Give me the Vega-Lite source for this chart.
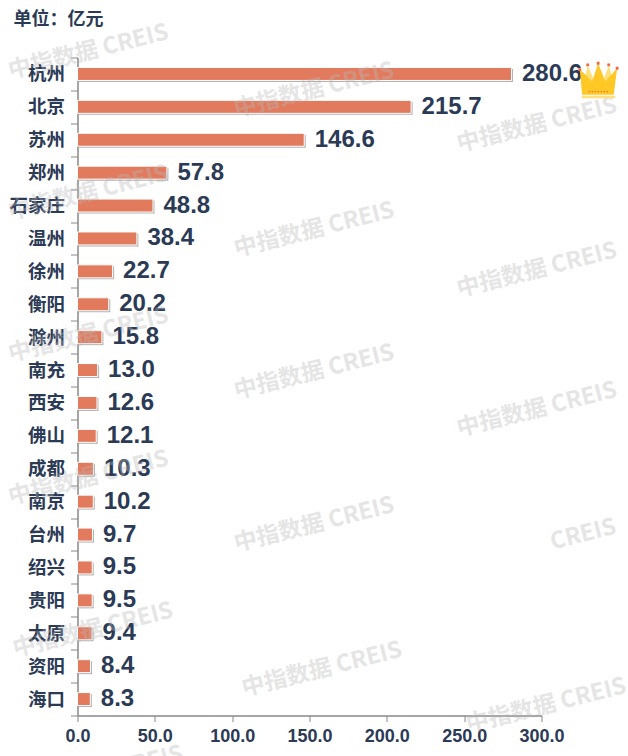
{
  "$schema": "https://vega.github.io/schema/vega-lite/v6.json",
  "width": 464,
  "height": 658,
  "autosize": {"type": "none"},
  "padding": {"left": 77.5, "top": 57.5, "right": 86.5, "bottom": 40.5},
  "background": "white",
  "title": {
    "text": "单位：亿元",
    "anchor": "start",
    "frame": "group",
    "dx": -64,
    "dy": 34,
    "offset": 26,
    "font": "Noto Sans CJK SC",
    "fontSize": 18,
    "fontWeight": "bold",
    "color": "#2B3A55"
  },
  "datasets": {
    "cities": [
      {"city": "杭州", "value": 280.6},
      {"city": "北京", "value": 215.7},
      {"city": "苏州", "value": 146.6},
      {"city": "郑州", "value": 57.8},
      {"city": "石家庄", "value": 48.8},
      {"city": "温州", "value": 38.4},
      {"city": "徐州", "value": 22.7},
      {"city": "衡阳", "value": 20.2},
      {"city": "滁州", "value": 15.8},
      {"city": "南充", "value": 13.0},
      {"city": "西安", "value": 12.6},
      {"city": "佛山", "value": 12.1},
      {"city": "成都", "value": 10.3},
      {"city": "南京", "value": 10.2},
      {"city": "台州", "value": 9.7},
      {"city": "绍兴", "value": 9.5},
      {"city": "贵阳", "value": 9.5},
      {"city": "太原", "value": 9.4},
      {"city": "资阳", "value": 8.4},
      {"city": "海口", "value": 8.3}
    ],
    "watermarks": [
      {"label": "中指数据  CREIS", "at": 7, "row": -0.17},
      {"label": "中指数据  CREIS", "at": 7, "row": 4.12},
      {"label": "中指数据  CREIS", "at": 7, "row": 8.43},
      {"label": "中指数据  CREIS", "at": 7, "row": 12.78},
      {"label": "中指数据  CREIS", "at": 10, "row": 17.4},
      {"label": "CREIS", "at": 47, "row": 21.4},
      {"label": "中指数据  CREIS", "at": 153, "row": 0.99},
      {"label": "中指数据  CREIS", "at": 153, "row": 5.24},
      {"label": "中指数据  CREIS", "at": 153, "row": 9.56},
      {"label": "中指数据  CREIS", "at": 153, "row": 14.2},
      {"label": "中指数据  CREIS", "at": 158, "row": 18.6},
      {"label": "中指数据  CREIS", "at": 297, "row": 2.05},
      {"label": "中指数据  CREIS", "at": 297, "row": 6.46},
      {"label": "中指数据  CREIS", "at": 297, "row": 10.7},
      {"label": "CREIS", "at": 327, "row": 14.5},
      {"label": "中指数据  CREIS", "at": 303, "row": 19.7}
    ],
    "crown": [{"at": 337, "row": 0.68}]
  },
  "layer": [
    {
      "data": {"name": "cities"},
      "encoding": {
        "y": {
          "field": "city",
          "type": "nominal",
          "sort": null,
          "scale": {"paddingInner": 0, "paddingOuter": 0},
          "title": null,
          "axis": {
            "tickBand": "extent",
            "tickSize": 7,
            "tickColor": "#888888",
            "domainColor": "#888888",
            "domainWidth": 1.5,
            "labelFont": "Noto Sans CJK SC",
            "labelFontSize": 18.5,
            "labelFontWeight": "bold",
            "labelColor": "#2B3A55",
            "labelPadding": 6,
            "labelAngle": 0
          }
        },
        "x": {
          "field": "value",
          "type": "quantitative",
          "scale": {"domain": [0, 300], "nice": false},
          "title": null,
          "axis": {
            "values": [0, 50, 100, 150, 200, 250, 300],
            "format": ".1f",
            "grid": false,
            "tickSize": 6,
            "tickColor": "#888888",
            "domainColor": "#888888",
            "domainWidth": 1.5,
            "labelFont": "Liberation Sans",
            "labelFontSize": 18,
            "labelFontWeight": "bold",
            "labelColor": "#2B3A55",
            "labelPadding": 6,
            "labelFlush": false,
            "labelOverlap": false
          }
        }
      },
      "layer": [
        {
          "mark": {"type": "bar", "size": 13, "color": "#9A9A9A", "opacity": 0.75, "xOffset": 1.5, "yOffset": 1.5}
        },
        {
          "mark": {"type": "bar", "size": 13, "color": "#E27B5E", "stroke": "white", "strokeWidth": 1}
        },
        {
          "mark": {
            "type": "text",
            "align": "left",
            "baseline": "middle",
            "dx": 10.5,
            "font": "Liberation Sans",
            "fontSize": 24,
            "fontWeight": "bold",
            "color": "#2B3A55"
          },
          "encoding": {"text": {"field": "value", "type": "quantitative", "format": ".1f"}}
        }
      ]
    },
    {
      "encoding": {
        "x": {"field": "at", "type": "quantitative"},
        "y": {
          "field": "row",
          "type": "quantitative",
          "scale": {"domain": [0, 20], "reverse": true, "nice": false},
          "axis": null
        }
      },
      "layer": [
        {
          "data": {"name": "watermarks"},
          "mark": {
            "type": "text",
            "angle": 346,
            "font": "Noto Sans CJK SC",
            "fontSize": 23,
            "fontWeight": "bold",
            "color": "#B8B8B8",
            "opacity": 0.36
          },
          "encoding": {"text": {"field": "label", "type": "nominal"}}
        },
        {
          "data": {"name": "crown"},
          "mark": {"type": "point", "filled": true, "size": 1600, "opacity": 1, "color": "#FFE07A", "shape": "M-0.75,0.1L-0.55,-0.72L-0.2,0.1ZM0.2,0.1L0.5,-0.72L0.75,0.1Z"}
        },
        {
          "data": {"name": "crown"},
          "mark": {"type": "point", "filled": true, "size": 1600, "opacity": 1, "color": "#FFC825", "shape": "M-0.83,0.75L-0.95,-0.53L-0.33,0.08L-0.03,-0.83L0.33,0.08L0.92,-0.58L0.75,0.75Z"}
        },
        {
          "data": {"name": "crown"},
          "mark": {"type": "point", "filled": true, "size": 1600, "opacity": 1, "color": "#FFE07A", "shape": "M-0.85,0.8H0.82V0.92H-0.85Z"}
        },
        {
          "data": {"name": "crown"},
          "mark": {
            "type": "point",
            "filled": true,
            "size": 1600,
            "opacity": 1,
            "color": "#F4663C",
            "shape": "M-1.02,-0.58h0.14v0.14h-0.14ZM-0.62,-0.82h0.14v0.14h-0.14ZM-0.1,-0.9h0.14v0.14h-0.14ZM0.43,-0.82h0.14v0.14h-0.14ZM0.85,-0.65h0.14v0.14h-0.14ZM-0.5,0.56h0.06v0.06h-0.06ZM-0.35,0.56h0.06v0.06h-0.06ZM-0.2,0.56h0.06v0.06h-0.06ZM-0.05,0.56h0.06v0.06h-0.06ZM0.1,0.56h0.06v0.06h-0.06ZM0.25,0.56h0.06v0.06h-0.06ZM0.4,0.56h0.06v0.06h-0.06Z"
          }
        }
      ]
    }
  ],
  "resolve": {"scale": {"y": "independent"}},
  "config": {"view": {"stroke": null}}
}
